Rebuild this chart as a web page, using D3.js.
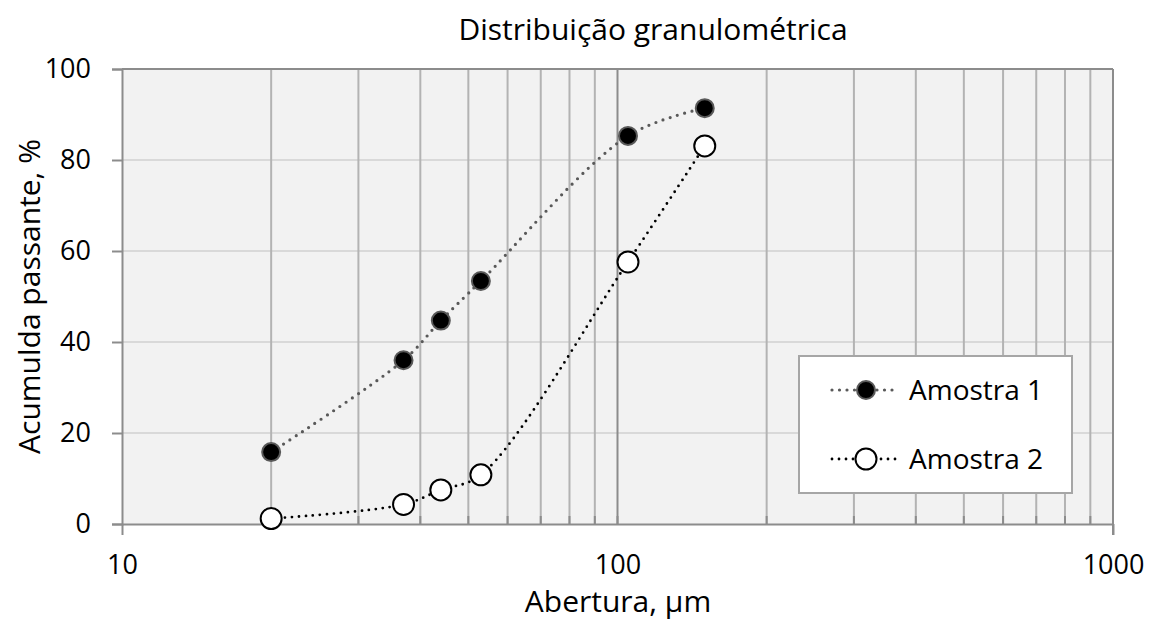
<!DOCTYPE html>
<html>
<head>
<meta charset="utf-8">
<script src="https://cdn.jsdelivr.net/npm/d3@7"></script>
<style>
  body { margin: 0; background: #fff; }
  svg text { font-family: "Open Sans", "Noto Sans", sans-serif; fill: #000; }
</style>
</head>
<body>
<svg id="chart" width="1152" height="621"></svg>
<script>
const ABERTURA = [20, 37, 44, 53, 105, 150]
const AMOSTRA_1 = [15.8, 36.0, 44.7, 53.4, 85.3, 91.4]
const AMOSTRA_2 = [1.2, 4.3, 7.5, 10.8, 57.6, 83.1]
const SERIES_NAMES = ['Amostra 1', 'Amostra 2']
const Y_TICKS = [0, 20, 40, 60, 80, 100]
const X_TICKS = [10, 100, 1000]

const margin = { left: 122, right: 39, top: 69, bottom: 97 }
const W = 1152, H = 621
const svg = d3.select('#chart')

const x = d3.scaleLog().domain([10, 1000]).range([margin.left, W - margin.right])
const y = d3.scaleLinear().domain([0, 100]).range([H - margin.bottom, margin.top])

// fundo da área do gráfico
svg.append('rect')
  .attr('x', x(10)).attr('y', y(100))
  .attr('width', x(1000) - x(10)).attr('height', y(0) - y(100))
  .attr('fill', '#f2f2f2')

// linhas de grade horizontais
svg.append('g')
  .selectAll('line')
  .data(Y_TICKS.filter(d => d > 0 && d < 100))
  .enter().append('line')
  .attr('x1', x(10)).attr('x2', x(1000))
  .attr('y1', d => y(d)).attr('y2', d => y(d))
  .attr('stroke', '#d9d9d9').attr('stroke-width', 2)

// linhas de grade verticais (log)
const vgrid = x.ticks().filter(d => d > 10 && d < 1000)
svg.append('g')
  .selectAll('line')
  .data(vgrid)
  .enter().append('line')
  .attr('x1', d => x(d)).attr('x2', d => x(d))
  .attr('y1', y(0)).attr('y2', y(100))
  .attr('stroke', d => d === 100 ? '#8c8c8c' : '#b3b3b3').attr('stroke-width', 2)

// pequenos traços no eixo x
svg.append('g')
  .selectAll('line')
  .data(vgrid)
  .enter().append('line')
  .attr('x1', d => x(d)).attr('x2', d => x(d))
  .attr('y1', y(0)).attr('y2', y(0) - 8)
  .attr('stroke', '#8c8c8c').attr('stroke-width', 2)

// borda superior e direita
svg.append('line').attr('x1', x(10)).attr('x2', x(1000)).attr('y1', y(100)).attr('y2', y(100))
  .attr('stroke', '#8c8c8c').attr('stroke-width', 2)
svg.append('line').attr('x1', x(1000)).attr('x2', x(1000)).attr('y1', y(100)).attr('y2', y(0) + 11)
  .attr('stroke', '#8c8c8c').attr('stroke-width', 2)

// eixo y
const yAxis = svg.append('g')
  .attr('transform', `translate(${x(10)},0)`)
  .call(d3.axisLeft(y).tickValues(Y_TICKS).tickSize(10).tickPadding(21))
yAxis.select('.domain').attr('stroke', '#8c8c8c').attr('stroke-width', 2)
yAxis.selectAll('.tick line').attr('stroke', '#8c8c8c').attr('stroke-width', 2)
yAxis.selectAll('text').attr('font-size', 27).attr('font-family', '"Open Sans", sans-serif').attr('fill', '#000')

// eixo x
const xAxis = svg.append('g')
  .attr('transform', `translate(0,${y(0)})`)
  .call(d3.axisBottom(x).tickValues(X_TICKS).tickFormat(d3.format('d')).tickSize(11).tickPadding(20).tickSizeOuter(0))
xAxis.select('.domain').attr('stroke', '#8c8c8c').attr('stroke-width', 2)
xAxis.selectAll('.tick line').attr('stroke', d => d === 100 ? 'none' : '#8c8c8c').attr('stroke-width', 2)
xAxis.selectAll('text').attr('font-size', 27).attr('font-family', '"Open Sans", sans-serif').attr('fill', '#000')

// séries
const line = d3.line()
  .x(d => x(d[0]))
  .y(d => y(d[1]))
  .curve(d3.curveCatmullRom.alpha(0.5))

const s1 = ABERTURA.map((a, i) => [a, AMOSTRA_1[i]])
const s2 = ABERTURA.map((a, i) => [a, AMOSTRA_2[i]])

svg.append('path').datum(s1)
  .attr('d', line).attr('fill', 'none')
  .attr('stroke', '#595959').attr('stroke-width', 3.2)
  .attr('stroke-dasharray', '0 7.5').attr('stroke-linecap', 'round')

svg.append('path').datum(s2)
  .attr('d', line).attr('fill', 'none')
  .attr('stroke', '#000').attr('stroke-width', 2.8)
  .attr('stroke-dasharray', '0 7').attr('stroke-linecap', 'round')

svg.append('g').selectAll('circle')
  .data(s1).enter().append('circle')
  .attr('cx', d => x(d[0])).attr('cy', d => y(d[1])).attr('r', 9)
  .attr('fill', '#000').attr('stroke', '#595959').attr('stroke-width', 2)

svg.append('g').selectAll('circle')
  .data(s2).enter().append('circle')
  .attr('cx', d => x(d[0])).attr('cy', d => y(d[1])).attr('r', 10.5)
  .attr('fill', '#fff').attr('stroke', '#000').attr('stroke-width', 2)

// legenda
const legend = svg.append('g').attr('transform', 'translate(799,356)')
legend.append('rect').attr('width', 273).attr('height', 137)
  .attr('fill', '#fff').attr('stroke', '#a6a6a6').attr('stroke-width', 2)

const legendStyles = [
  { stroke: '#595959', width: 3.2, dash: '0 7.5', fill: '#000', mstroke: '#595959', r: 9 },
  { stroke: '#000', width: 2.8, dash: '0 7', fill: '#fff', mstroke: '#000', r: 10.5 }
]
SERIES_NAMES.forEach((name, i) => {
  const st = legendStyles[i]
  const g = legend.append('g').attr('transform', `translate(0,${34 + i * 69})`)
  g.append('line').attr('x1', 33).attr('x2', 100)
    .attr('stroke', st.stroke).attr('stroke-width', st.width)
    .attr('stroke-dasharray', st.dash).attr('stroke-linecap', 'round')
  g.append('circle').attr('cx', 67).attr('r', st.r)
    .attr('fill', st.fill).attr('stroke', st.mstroke).attr('stroke-width', 2)
  g.append('text').attr('x', 110).attr('y', 10).attr('font-size', 28).text(name)
})

// títulos
svg.append('text').attr('x', 653).attr('y', 40).attr('text-anchor', 'middle')
  .attr('font-size', 30).text('Distribuição granulométrica')
svg.append('text').attr('x', 618).attr('y', 612).attr('text-anchor', 'middle')
  .attr('font-size', 30).text('Abertura, µm')
svg.append('text').attr('transform', `translate(40,${(y(0) + y(100)) / 2}) rotate(-90)`)
  .attr('text-anchor', 'middle').attr('font-size', 30).text('Acumulda passante, %')
</script>
</body>
</html>
